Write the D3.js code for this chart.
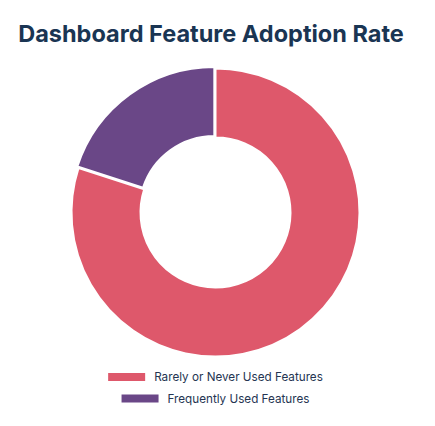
<!DOCTYPE html>
<html>
<head>
<meta charset="utf-8">
<script src="https://cdn.jsdelivr.net/npm/d3@7"></script>
<style>
  body { margin: 0; background: #fff; }
  svg { display: block; }
</style>
</head>
<body>
<svg id="chart" width="435" height="426"></svg>
<script>
const TITLE = "Dashboard Feature Adoption Rate"
const categories = ["Rarely or Never Used Features", "Frequently Used Features"]
const values = [80, 20]
const colors = ["#de586b", "#6a4787"]

const svg = d3.select("#chart")
const cx = 215.5, cy = 212.5
const outerR = 144, innerR = 75

svg.append("text")
    .attr("x", 211)
    .attr("y", 42)
    .attr("text-anchor", "middle")
    .attr("font-family", "Inter, sans-serif")
    .attr("font-weight", 700)
    .attr("font-size", 23.5)
    .attr("fill", "#1a3553")
    .text(TITLE)

let pie = d3.pie().sort(null).value(d => d)
let arc = d3.arc().innerRadius(innerR).outerRadius(outerR)
let arcs = pie(values)

let g = svg.append("g").attr("transform", `translate(${cx},${cy})`)

g.selectAll("path")
    .data(arcs)
    .join("path")
    .attr("d", arc)
    .attr("fill", (d, i) => colors[i])
    .attr("stroke", "#fff")
    .attr("stroke-width", 2)
    .attr("transform", function(d, i) {
        // the small slice is pulled out a little
        if (i != 1) return null
        let mid = (d.startAngle + d.endAngle) / 2
        let off = 2
        return `translate(${Math.sin(mid) * off},${-Math.cos(mid) * off})`
    })

// legend, one centred row per category
let legend = svg.append("g")
let rowY = [377, 398.5]
categories.forEach(function(name, i) {
    let row = legend.append("g")
    let t = row.append("text")
        .attr("x", 46)
        .attr("y", rowY[i] + 4.3)
        .attr("font-family", "Inter, sans-serif")
        .attr("font-size", 11.7)
        .attr("fill", "#253552")
        .text(name)
    row.append("rect")
        .attr("x", 0)
        .attr("y", rowY[i] - 4)
        .attr("width", 37)
        .attr("height", 8)
        .attr("fill", colors[i])
    let w = 46 + t.node().getComputedTextLength()
    row.attr("transform", `translate(${215.5 - w / 2},0)`)
})
</script>
</body>
</html>
